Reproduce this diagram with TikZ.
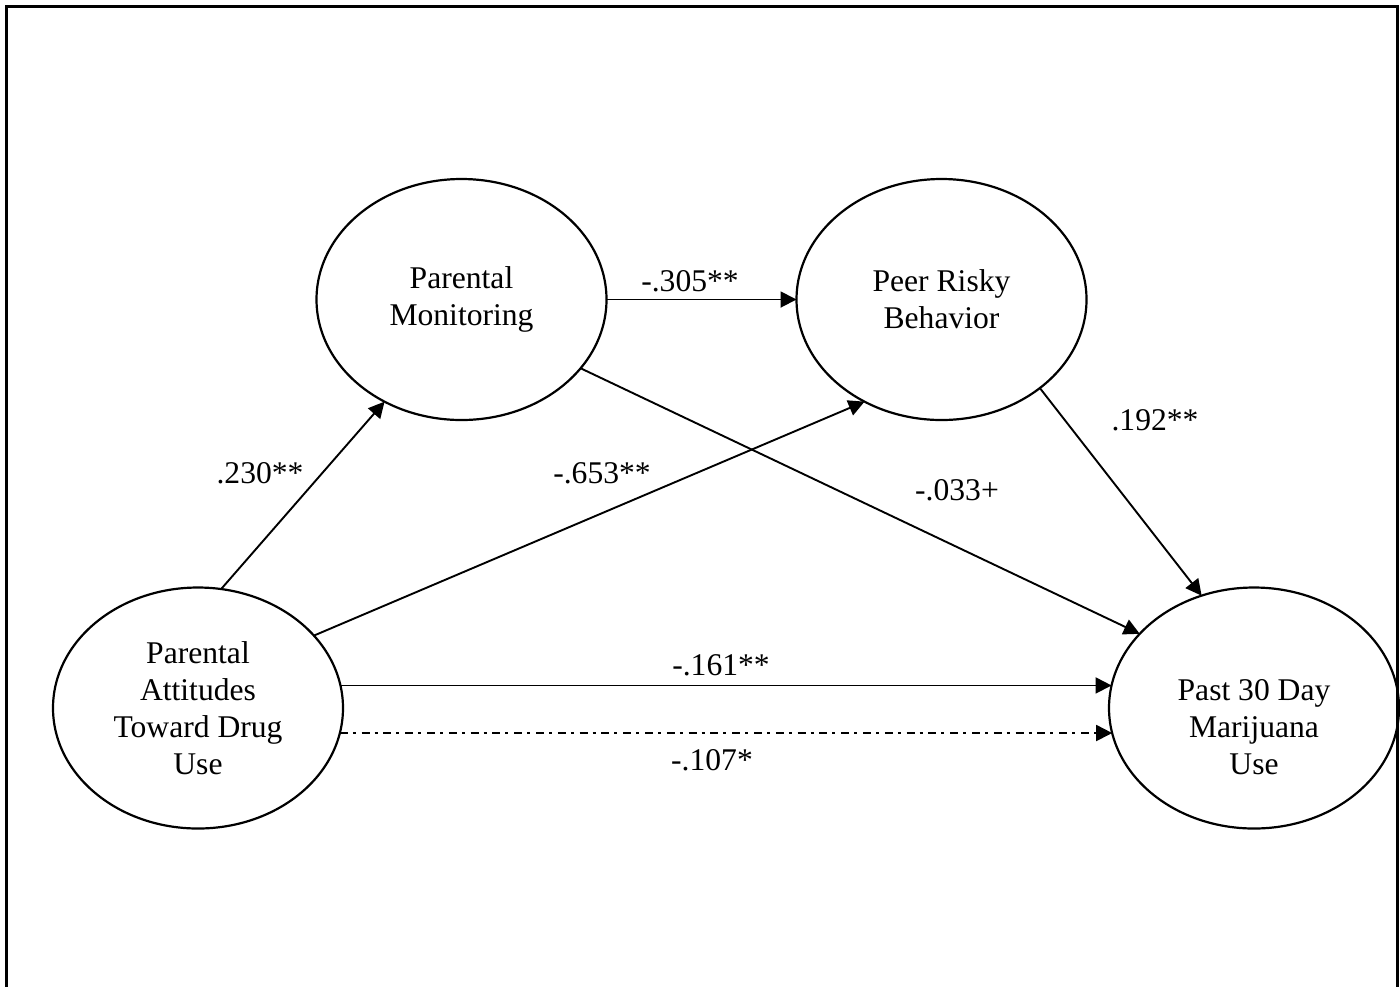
\documentclass[tikz,border=0pt]{standalone}
\usepackage{fontspec}
\setmainfont{Liberation Serif}
\usetikzlibrary{shapes.geometric,arrows.meta}
\begin{document}
\begin{tikzpicture}[x=0.5pt,y=-0.5pt,
  latent/.style={ellipse,draw,line width=1.1pt,minimum width=145pt,minimum height=120.5pt,inner sep=0pt,outer sep=0pt},
  lbl/.style={font=\fontsize{15.8}{18.5}\selectfont,align=center,inner sep=0pt},
  coef/.style={font=\fontsize{15.8}{18.5}\selectfont,inner sep=0pt,anchor=base},
  effect/.style={line width=0.95pt,-{Triangle[length=8pt,width=8pt]}},
  dashdot effect/.style={effect,dash pattern=on 4pt off 2.5pt on 1.5pt off 2.9pt}]
\useasboundingbox (0,0) rectangle (1400,986);
% open frame running off the lower edge
\begin{scope}
  \clip (0,0) rectangle (1400,986);
  \draw[line width=1.5pt] (6,1000) -- (6,6) -- (1397.5,6) -- (1397.5,1000);
\end{scope}

% latent constructs
\node[latent] (pm)   at (461.5,299.5) {};
\node[latent] (prb)  at (941.5,299.5) {};
\node[latent] (pa)   at (198,708) {};
\node[latent] (past) at (1254,708) {};

\node[lbl] (pmtext)   at (pm.center)   {Parental\\Monitoring};
\node[lbl] (prbtext)  at (prb.center)  {Peer Risky\\Behavior};
\node[lbl] (patext)   at (pa.center)   {Parental\\Attitudes\\Toward Drug\\Use};
\node[lbl,yshift=-9.5pt] (pasttext) at (past.center) {Past 30 Day\\Marijuana\\Use};

% paths
\draw[effect] (pa.79) -- (pm.233);
\draw[effect] (pm.east) -- (prb.west);
\draw[effect] (pa.32) -- (prb.233);
\draw[effect] (pm.-30) -- (past.147);
\draw[effect] (prb.-42) -- (past.115);
\draw[effect] (pa.9) -- (past.171);
\draw[dashdot effect] (pa.-10) -- (past.190);

% path coefficients
\node[coef] (c1) at (260,483) {.230**};
\node[coef] (c2) at (690,291) {-.305**};
\node[coef] (c3) at (602,483) {-.653**};
\node[coef] (c4) at (957,500) {-.033+};
\node[coef] (c5) at (1155,430) {.192**};
\node[coef] (c6) at (721,675) {-.161**};
\node[coef] (c7) at (712,770) {-.107*};
\end{tikzpicture}
\end{document}
